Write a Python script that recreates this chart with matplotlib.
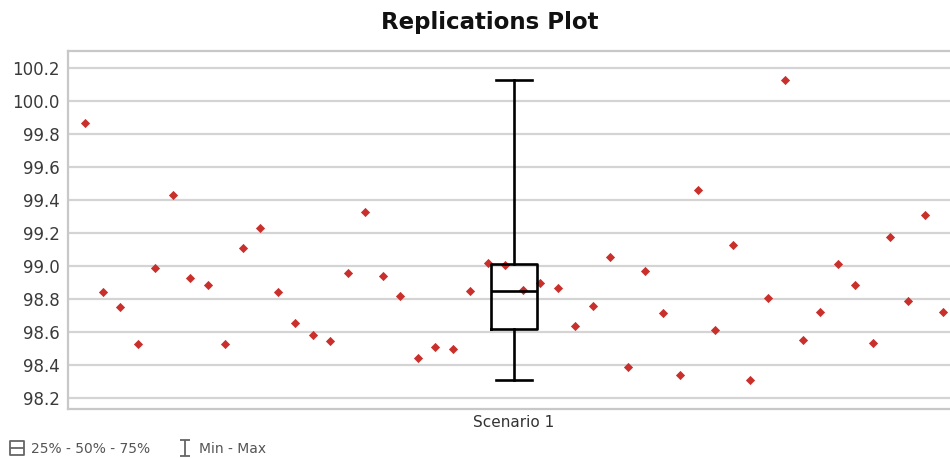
import numpy as np
import matplotlib
matplotlib.use("Agg")
import matplotlib.pyplot as plt
from matplotlib.lines import Line2D
from matplotlib.path import Path

# replication results
replications = [
    99.865, 98.844, 98.750, 98.525, 98.986, 99.430, 98.929, 98.883, 98.525, 99.109,
    99.232, 98.844, 98.656, 98.582, 98.545, 98.959, 99.325, 98.941, 98.818, 98.442,
    98.507, 98.499, 98.847, 99.016, 99.004, 98.855, 98.895, 98.865, 98.638, 98.759,
    99.053, 98.386, 98.968, 98.713, 98.338, 99.459, 98.612, 99.129, 98.309, 98.808,
    100.127, 98.553, 98.723, 99.014, 98.883, 98.535, 99.178, 98.790, 99.309, 98.723,
]
scenario = "Scenario 1"
y_ticks = [98.2, 98.4, 98.6, 98.8, 99.0, 99.2, 99.4, 99.6, 99.8, 100.0, 100.2]

n = len(replications)
xs = np.arange(1, n + 1)
center = (n + 1) / 2

fig = plt.figure(figsize=(9.5, 4.59), dpi=100)
# axes runs slightly past the right edge like in the original export
ax = fig.add_axes([68 / 950, 1 - 409 / 459, 892 / 950, (409 - 50.5) / 459])

ax.set_xlim(0, n + 1)
ax.set_ylim(98.133, 100.305)
ax.set_yticks(y_ticks)
ax.set_yticklabels([f"{t:.1f}" for t in y_ticks])
ax.set_xticks([center])
ax.set_xticklabels([scenario])

ax.grid(axis="y", color="#d4d4d4", linewidth=1.6)
ax.set_axisbelow(True)
for side in ["left", "top", "bottom"]:
    ax.spines[side].set_color("#c8c8c8")
    ax.spines[side].set_linewidth(1.6)
ax.spines["right"].set_visible(False)
ax.tick_params(axis="y", length=0, labelsize=12, labelcolor="#3a3a3a", pad=6)
ax.tick_params(axis="x", length=0, labelsize=11, labelcolor="#333333", pad=4)

ax.scatter(xs, replications, marker="D", s=22, color="#c9302c", linewidths=0, zorder=3)

ax.boxplot([replications], positions=[center], widths=2.6, whis=(0, 100),
           showfliers=False, capwidths=2.1, manage_ticks=False,
           boxprops=dict(color="black", linewidth=1.9),
           whiskerprops=dict(color="black", linewidth=1.9),
           capprops=dict(color="black", linewidth=1.9),
           medianprops=dict(color="black", linewidth=1.9), zorder=4)

fig.text(490 / 950, 1 - 22 / 459, "Replications Plot", ha="center", va="center",
         fontsize=16.5, fontweight="bold", color="#111111")

# legend icons
box_icon = Path([(-1, -1), (1, -1), (1, 1), (-1, 1), (-1, -1), (-1, 0), (1, 0)],
                [Path.MOVETO, Path.LINETO, Path.LINETO, Path.LINETO, Path.CLOSEPOLY,
                 Path.MOVETO, Path.LINETO])
ibeam_icon = Path([(-0.6, 1), (0.6, 1), (0, 1), (0, -1), (-0.6, -1), (0.6, -1)],
                  [Path.MOVETO, Path.LINETO, Path.MOVETO, Path.LINETO, Path.MOVETO, Path.LINETO])
handles = [
    Line2D([], [], linestyle="none", marker=box_icon, markersize=10,
           markerfacecolor="none", markeredgecolor="#666666", markeredgewidth=1.3),
    Line2D([], [], linestyle="none", marker=ibeam_icon, markersize=12,
           markerfacecolor="none", markeredgecolor="#666666", markeredgewidth=1.3),
]
fig.legend(handles, ["25% - 50% - 75%", "Min - Max"], loc="center left",
           bbox_to_anchor=(0.005, 1 - 449 / 459), ncol=2, frameon=False,
           fontsize=10, labelcolor="#555555", handlelength=1.0, handletextpad=0.5,
           columnspacing=2.0, borderaxespad=0)

fig.savefig("out.png", dpi=100)
